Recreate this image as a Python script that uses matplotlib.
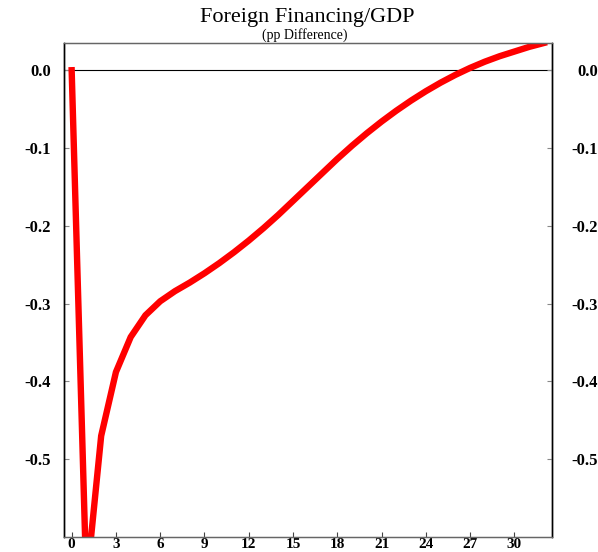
#!/usr/bin/env python3
"""
Impulse response of foreign financing relative to GDP (pp difference from baseline).
Saves the figure to out.png.
"""

import matplotlib
matplotlib.use('Agg')
import matplotlib.pyplot as plt

# Quarters after the shock and the response in percentage points
quarters = list(range(0, 33))
response = [0.000, -0.660, -0.470, -0.388, -0.343, -0.315, -0.297, -0.284,
            -0.273, -0.261, -0.248, -0.234, -0.219, -0.203, -0.186, -0.168,
            -0.150, -0.132, -0.114, -0.097, -0.081, -0.066, -0.052, -0.039,
            -0.027, -0.016, -0.006, 0.003, 0.011, 0.018, 0.024, 0.030, 0.035]

x_ticks = list(range(0, 31, 3))
y_ticks = [0.0, -0.1, -0.2, -0.3, -0.4, -0.5]
y_tick_labels = ['0.0', '-0.1', '-0.2', '-0.3', '-0.4', '-0.5']

plt.rcParams['font.family'] = ['Liberation Serif', 'DejaVu Serif']

fig = plt.figure(figsize=(5.98, 5.52), dpi=100)
ax = fig.add_axes([0.1070, 0.0272, 0.8161, 0.8949])

# Reference line at zero and the response path
ax.axhline(0.0, color='black', linewidth=0.8, zorder=1)
ax.plot(quarters, response, color='#ff0000', linewidth=4.6,
        solid_joinstyle='miter', zorder=2)

ax.set_xlim(-0.52, 32.55)
ax.set_ylim(-0.60, 0.035)

ax.set_xticks(x_ticks)
ax.set_xticklabels([str(t) for t in x_ticks], fontweight='bold')
ax.set_yticks(y_ticks)
ax.set_yticklabels(y_tick_labels, fontweight='bold')

ax.tick_params(axis='x', direction='in', length=3.5, width=0.8, color='#444444',
               pad=1, labelsize=11)
ax.tick_params(axis='y', direction='in', length=3.5, width=0.8, color='#888888',
               left=True, right=False, pad=9.5, labelsize=12)

# Right-hand scale: same ticks, labels right-aligned against the figure edge
ax_r = ax.twinx()
ax_r.set_ylim(ax.get_ylim())
ax_r.set_yticks(y_ticks)
ax_r.set_yticklabels(y_tick_labels, fontweight='bold', ha='right')
ax_r.tick_params(axis='y', direction='in', length=3.5, width=0.8, color='#888888',
                 right=True, left=False, pad=33, labelsize=12)

for a in (ax, ax_r):
    for side in ['left', 'right']:
        a.spines[side].set_color('black')
        a.spines[side].set_linewidth(1.0)
    for side in ['top', 'bottom']:
        a.spines[side].set_color('#666666')
        a.spines[side].set_linewidth(0.9)

fig.text(0.513, 0.961, 'Foreign Financing/GDP', ha='center', va='baseline',
         fontsize=16)
fig.text(0.510, 0.930, '(pp Difference)', ha='center', va='baseline',
         fontsize=10)

plt.savefig('out.png', dpi=100)
plt.close()
